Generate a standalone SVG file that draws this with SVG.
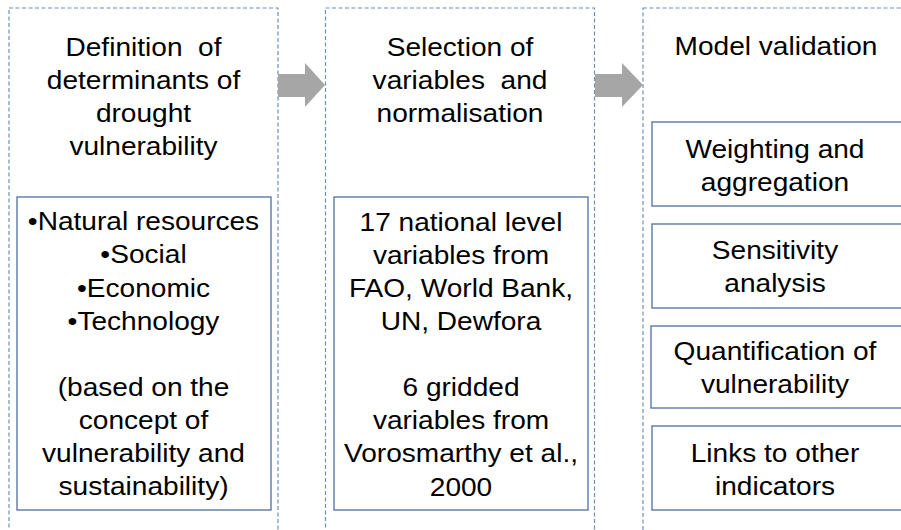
<svg xmlns="http://www.w3.org/2000/svg" width="901" height="530" viewBox="0 0 901 530">
  <style>
    .stage { fill: #ffffff; stroke: #6f8ebd; stroke-width: 1.2; stroke-dasharray: 4 2.5; }
    .box { fill: #ffffff; stroke: #4f6fa0; stroke-width: 1.3; }
    .t { font-family: "Liberation Sans", Arial, sans-serif; font-size: 26px; fill: #000000; text-anchor: middle; }
    .arrow { fill: #a6a6a6; }
  </style>
  <rect width="901" height="530" fill="#ffffff"/>

  <g id="stage1">
    <rect class="stage" x="9" y="8" width="269" height="540"/>
    <g transform="translate(143.5 0) scale(1.08 1)">
      <text class="t" x="0" y="56">Definition&#160; of</text>
      <text class="t" x="0" y="89">determinants of</text>
      <text class="t" x="0" y="122">drought</text>
      <text class="t" x="0" y="155">vulnerability</text>
    </g>
  </g>
  <g id="determinants">
    <rect class="box" x="17" y="197" width="254" height="313"/>
    <g transform="translate(143.5 0) scale(1.08 1)">
      <text class="t" x="0" y="230">•Natural resources</text>
      <text class="t" x="0" y="263">•Social</text>
      <text class="t" x="0" y="297">•Economic</text>
      <text class="t" x="0" y="330">•Technology</text>
      <text class="t" x="0" y="396">(based on the</text>
      <text class="t" x="0" y="429">concept of</text>
      <text class="t" x="0" y="462">vulnerability and</text>
      <text class="t" x="0" y="495">sustainability)</text>
    </g>
  </g>

  <g id="stage2">
    <rect class="stage" x="325.5" y="8" width="269" height="540"/>
    <g transform="translate(460 0) scale(1.08 1)">
      <text class="t" x="0" y="56">Selection of</text>
      <text class="t" x="0" y="89">variables&#160; and</text>
      <text class="t" x="0" y="122">normalisation</text>
    </g>
  </g>
  <g id="variables">
    <rect class="box" x="334" y="197" width="254" height="313"/>
    <g transform="translate(461 0) scale(1.08 1)">
      <text class="t" x="0" y="231">17 national level</text>
      <text class="t" x="0" y="264">variables from</text>
      <text class="t" x="0" y="297">FAO, World Bank,</text>
      <text class="t" x="0" y="330">UN, Dewfora</text>
      <text class="t" x="0" y="396">6 gridded</text>
      <text class="t" x="0" y="429">variables from</text>
      <text class="t" x="0" y="462">Vorosmarthy et al.,</text>
      <text class="t" x="0" y="496">2000</text>
    </g>
  </g>

  <g id="stage3">
    <rect class="stage" x="643" y="8" width="280" height="540"/>
    <g transform="translate(776 0) scale(1.08 1)">
      <text class="t" x="0" y="55">Model validation</text>
    </g>
  </g>
  <g id="weighting">
    <rect class="box" x="652" y="122" width="270" height="84"/>
    <g transform="translate(775 0) scale(1.08 1)">
      <text class="t" x="0" y="158">Weighting and</text>
      <text class="t" x="0" y="191">aggregation</text>
    </g>
  </g>
  <g id="sensitivity">
    <rect class="box" x="652" y="224" width="270" height="84"/>
    <g transform="translate(775 0) scale(1.08 1)">
      <text class="t" x="0" y="259">Sensitivity</text>
      <text class="t" x="0" y="292">analysis</text>
    </g>
  </g>
  <g id="quantification">
    <rect class="box" x="651" y="326" width="270" height="82"/>
    <g transform="translate(775 0) scale(1.08 1)">
      <text class="t" x="0" y="360">Quantification of</text>
      <text class="t" x="0" y="393">vulnerability</text>
    </g>
  </g>
  <g id="links">
    <rect class="box" x="652" y="426" width="270" height="84"/>
    <g transform="translate(775 0) scale(1.08 1)">
      <text class="t" x="0" y="462">Links to other</text>
      <text class="t" x="0" y="495">indicators</text>
    </g>
  </g>

  <g id="connectors">
    <polygon class="arrow" points="278,74 305,74 305,63 325,85 305,107 305,97 278,97"/>
    <polygon class="arrow" points="595,74 622,74 622,63 643,85 622,107 622,97 595,97"/>
  </g>
</svg>
